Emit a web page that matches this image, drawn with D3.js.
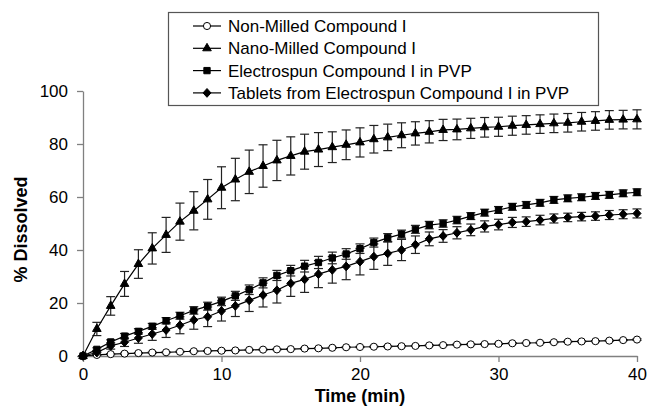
<!DOCTYPE html>
<html>
<head>
<meta charset="utf-8">
<script src="https://cdn.jsdelivr.net/npm/d3@7"></script>
<style>
  body { margin: 0; background: #fff; }
  text { font-family: "Liberation Sans", Arial, sans-serif; }
</style>
</head>
<body>
<script>
var times = d3.range(0, 41);

var nonMilled = [0, 0.4, 0.7, 0.9, 1.1, 1.3, 1.4, 1.6, 1.8, 1.9, 2.0, 2.1, 2.3, 2.4, 2.5,
  2.6, 2.8, 2.9, 3.1, 3.3, 3.4, 3.5, 3.6, 3.7, 3.8, 4.0, 4.1, 4.3, 4.4, 4.5, 4.6,
  4.8, 4.9, 5.0, 5.2, 5.4, 5.5, 5.6, 5.8, 6.0, 6.2];
var nonMilledErr = [0, 0.2, 0.2, 0.2, 0.2, 0.2, 0.2, 0.2, 0.2, 0.2, 0.2, 0.2, 0.2, 0.2, 0.2,
  0.2, 0.2, 0.2, 0.2, 0.2, 0.2, 0.2, 0.2, 0.2, 0.2, 0.2, 0.2, 0.2, 0.2, 0.2, 0.2,
  0.2, 0.2, 0.2, 0.2, 0.2, 0.2, 0.2, 0.2, 0.2, 0.3];

var nanoMilled = [0, 10.2, 18.9, 27.2, 34.7, 40.6, 45.7, 50.7, 54.8, 59.1, 63.5, 66.6,
  69.5, 71.7, 73.8, 75.5, 77.1, 77.9, 78.8, 79.7, 80.6, 81.8, 82.5, 83.3, 84.0, 84.6,
  85.3, 85.5, 85.9, 86.3, 86.5, 86.9, 87.2, 87.5, 87.8, 88.0, 88.4, 88.7, 89.1, 89.2, 89.3];
var nanoMilledErr = [0, 2.5, 3.5, 4.7, 5.4, 5.9, 6.6, 7.0, 7.2, 7.5, 7.9, 8.0, 8.2, 8.0,
  7.6, 7.2, 6.6, 6.4, 5.8, 5.6, 5.5, 5.2, 5.0, 4.7, 4.4, 4.2, 4.0, 3.9, 3.8, 3.7, 3.6,
  3.6, 3.5, 3.5, 3.5, 3.5, 3.5, 3.5, 3.5, 3.5, 3.6];

var electrospun = [0, 2.5, 5.3, 7.5, 9.3, 11.2, 13.3, 15.2, 17.2, 18.8, 20.6, 22.7, 25.0,
  27.6, 30.4, 32.2, 33.9, 35.3, 37.0, 38.5, 40.5, 42.8, 44.6, 46.0, 47.8, 49.4, 50.0,
  51.3, 52.8, 54.1, 55.1, 56.3, 57.0, 57.8, 58.9, 59.5, 59.9, 60.4, 60.8, 61.4, 61.8];
var electrospunErr = [0, 0.6, 0.8, 1.0, 1.0, 1.1, 1.2, 1.3, 1.4, 1.5, 1.6, 1.7, 1.8, 1.9,
  1.9, 2.0, 2.2, 2.3, 2.2, 2.0, 1.8, 1.7, 1.6, 1.5, 1.5, 1.4, 1.4, 1.4, 1.3, 1.3, 1.3,
  1.3, 1.3, 1.3, 1.3, 1.3, 1.3, 1.3, 1.3, 1.3, 1.3];

var tablets = [0, 1.3, 3.8, 5.2, 6.8, 8.3, 9.8, 11.6, 13.6, 14.8, 17.0, 18.9, 21.0, 23.0,
  24.8, 27.4, 28.9, 30.9, 32.5, 33.8, 35.6, 37.5, 38.7, 40.0, 42.0, 44.2, 45.3, 46.5,
  47.6, 48.9, 49.6, 50.4, 50.7, 51.3, 51.9, 52.3, 52.6, 52.8, 53.2, 53.5, 53.8];
var tabletsErr = [0, 0.8, 1.2, 1.6, 2.0, 2.4, 2.8, 3.2, 3.5, 3.7, 3.8, 4.0, 4.2, 4.5,
  4.8, 4.9, 4.9, 5.1, 5.0, 5.0, 5.0, 4.8, 4.5, 4.0, 3.3, 2.6, 2.4, 2.3, 2.2, 2.1, 2.0,
  1.9, 1.8, 1.8, 1.7, 1.6, 1.6, 1.6, 1.7, 1.7, 1.7];

var seriesNames = ["Non-Milled Compound I", "Nano-Milled Compound I",
  "Electrospun Compound I in PVP", "Tablets from Electrospun Compound I in PVP"];
var xTicks = [0, 10, 20, 30, 40];
var yTicks = [0, 20, 40, 60, 80, 100];

var width = 648, height = 410;
var margin = {top: 91, right: 11, bottom: 54, left: 83};

// compact diamond, roughly as wide as it is tall
var diamond = {
  draw: function(context, size) {
    var r = Math.sqrt(size / 2);
    context.moveTo(0, -r * 1.1);
    context.lineTo(r, 0);
    context.lineTo(0, r * 1.1);
    context.lineTo(-r, 0);
    context.closePath();
  }
};

var series = [
  {name: seriesNames[0], values: nonMilled, err: nonMilledErr, type: d3.symbolCircle, size: 40, fill: "#fff"},
  {name: seriesNames[1], values: nanoMilled, err: nanoMilledErr, type: d3.symbolTriangle, size: 32, fill: "#000"},
  {name: seriesNames[2], values: electrospun, err: electrospunErr, type: d3.symbolSquare, size: 40, fill: "#000"},
  {name: seriesNames[3], values: tablets, err: tabletsErr, type: diamond, size: 32, fill: "#000"}
];

var x = d3.scaleLinear().domain([0, 40]).range([margin.left, width - margin.right]);
var y = d3.scaleLinear().domain([0, 100]).range([height - margin.bottom, margin.top]);

var svg = d3.select("body").append("svg")
  .attr("width", width)
  .attr("height", height);

// axes
var xAxis = svg.append("g")
  .attr("transform", "translate(0," + y(0) + ")")
  .call(d3.axisBottom(x).tickValues(xTicks).tickSize(6).tickPadding(6).tickSizeOuter(0));
var yAxis = svg.append("g")
  .attr("transform", "translate(" + x(0) + ",0)")
  .call(d3.axisLeft(y).tickValues(yTicks).tickSize(6).tickPadding(9).tickSizeOuter(0));

[xAxis, yAxis].forEach(function(g) {
  g.select(".domain").attr("stroke", "#808080").attr("stroke-width", 1.3);
  g.selectAll(".tick line").attr("stroke", "#808080").attr("stroke-width", 1.3);
  g.selectAll(".tick text")
    .attr("fill", "#000")
    .style("font-size", "17px")
    .style("font-family", "'Liberation Sans', Arial, sans-serif");
});

svg.append("text")
  .attr("x", x(20))
  .attr("y", 402)
  .attr("text-anchor", "middle")
  .style("font-size", "18px")
  .style("font-weight", "bold")
  .text("Time (min)");

svg.append("text")
  .attr("transform", "translate(27," + (y(50) + 6) + ") rotate(-90)")
  .attr("text-anchor", "middle")
  .style("font-size", "18px")
  .style("font-weight", "bold")
  .text("% Dissolved");

var line = d3.line()
  .x(function(d, i) { return x(times[i]); })
  .y(function(d) { return y(d); });

// error bars first, then lines and markers
series.forEach(function(s) {
  var g = svg.append("g");
  var bars = g.selectAll("g.err")
    .data(s.values)
    .enter()
    .append("g")
    .attr("stroke", "#222")
    .attr("stroke-width", 1.2);
  bars.append("line")
    .attr("x1", function(d, i) { return x(times[i]); })
    .attr("x2", function(d, i) { return x(times[i]); })
    .attr("y1", function(d, i) { return y(d + s.err[i]); })
    .attr("y2", function(d, i) { return y(d - s.err[i]); });
  bars.append("line")
    .attr("x1", function(d, i) { return x(times[i]) - 4.5; })
    .attr("x2", function(d, i) { return x(times[i]) + 4.5; })
    .attr("y1", function(d, i) { return y(d + s.err[i]); })
    .attr("y2", function(d, i) { return y(d + s.err[i]); });
  bars.append("line")
    .attr("x1", function(d, i) { return x(times[i]) - 4.5; })
    .attr("x2", function(d, i) { return x(times[i]) + 4.5; })
    .attr("y1", function(d, i) { return y(d - s.err[i]); })
    .attr("y2", function(d, i) { return y(d - s.err[i]); });
});

series.forEach(function(s) {
  svg.append("path")
    .datum(s.values)
    .attr("fill", "none")
    .attr("stroke", "#000")
    .attr("stroke-width", 1.2)
    .attr("d", line);
});

series.forEach(function(s) {
  svg.append("g").selectAll("path")
    .data(s.values)
    .enter()
    .append("path")
    .attr("transform", function(d, i) { return "translate(" + x(times[i]) + "," + y(d) + ")"; })
    .attr("d", d3.symbol().type(s.type).size(s.size))
    .attr("fill", s.fill)
    .attr("stroke", "#000")
    .attr("stroke-width", 1);
});

// legend
var legend = svg.append("g");
legend.append("rect")
  .attr("x", 168.5)
  .attr("y", 12.5)
  .attr("width", 430)
  .attr("height", 93)
  .attr("fill", "#fff")
  .attr("stroke", "#555")
  .attr("stroke-width", 1.2);

var rows = legend.selectAll("g.row")
  .data(series)
  .enter()
  .append("g")
  .attr("transform", function(d, i) { return "translate(0," + (26 + i * 22.3) + ")"; });
rows.append("line")
  .attr("x1", 193).attr("x2", 221)
  .attr("y1", 0).attr("y2", 0)
  .attr("stroke", "#000")
  .attr("stroke-width", 1.2);
rows.append("path")
  .attr("transform", "translate(207,0)")
  .attr("d", function(d) { return d3.symbol().type(d.type).size(d.size)(); })
  .attr("fill", function(d) { return d.fill; })
  .attr("stroke", "#000");
rows.append("text")
  .attr("x", 228)
  .attr("y", 0)
  .attr("dy", "0.35em")
  .style("font-size", "17px")
  .text(function(d) { return d.name; });
</script>
</body>
</html>
